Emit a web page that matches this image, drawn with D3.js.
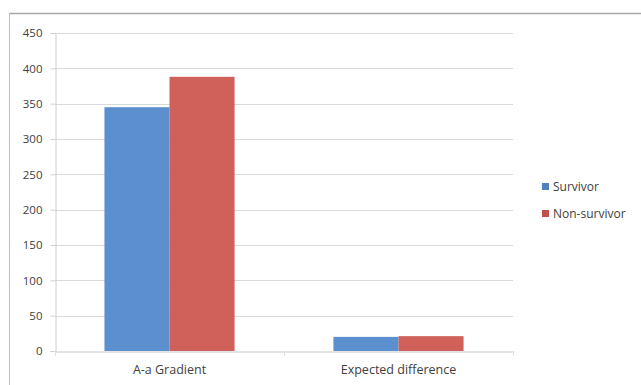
<!DOCTYPE html>
<html>
<head>
<meta charset="utf-8">
<script src="https://cdn.jsdelivr.net/npm/d3@7"></script>
<style>
  html, body { margin: 0; padding: 0; background: #fff; }
  svg { display: block; }
  text { font-family: "Open Sans", "DejaVu Sans", sans-serif; fill: #404040; }
</style>
</head>
<body>
<svg id="chart" width="641" height="385"></svg>
<script>
// Chart data
const categories = ["A-a Gradient", "Expected difference"];
const seriesNames = ["Survivor", "Non-survivor"];
const survivorValues = [345, 20];
const nonSurvivorValues = [388, 21];
const yTicks = [0, 50, 100, 150, 200, 250, 300, 350, 400, 450];

const colors = { "Survivor": "#4f81bd", "Non-survivor": "#c0504d" };
const barColors = { "Survivor": "#5b8fce", "Non-survivor": "#d0605a" };
const fontFamily = "\"Open Sans\", \"DejaVu Sans\", sans-serif";

const svg = d3.select("#chart");

// Outer chart frame (top and left edges)
svg.append("line").attr("x1", 9.5).attr("x2", 641).attr("y1", 13.5).attr("y2", 13.5)
  .attr("stroke", "#a6a6a6").attr("stroke-width", 1.5);
svg.append("line").attr("x1", 9.5).attr("x2", 9.5).attr("y1", 13.5).attr("y2", 385)
  .attr("stroke", "#bfbfbf").attr("stroke-width", 1);

const plot = { left: 55, right: 513, top: 33, bottom: 351 };

const x0 = d3.scaleBand().domain(categories).range([plot.left, plot.right]).paddingInner(0).paddingOuter(0);
const x1 = d3.scaleBand().domain(seriesNames).range([0, x0.bandwidth()]).paddingInner(0).paddingOuter(0.76);
const y = d3.scaleLinear().domain([0, 450]).range([plot.bottom, plot.top]);

// Horizontal gridlines
svg.append("g").selectAll("line").data(yTicks.filter(d => d > 0)).join("line")
  .attr("x1", plot.left).attr("x2", plot.right)
  .attr("y1", d => Math.round(y(d)) + 0.5).attr("y2", d => Math.round(y(d)) + 0.5)
  .attr("stroke", "#d9d9d9").attr("stroke-width", 1);

// Y axis
const yAxis = svg.append("g").attr("transform", `translate(${plot.left + 0.5},0)`)
  .call(d3.axisLeft(y).tickValues(yTicks).tickSize(5).tickPadding(8));
yAxis.select(".domain").attr("stroke", "#d0d0d0");
yAxis.selectAll(".tick line").attr("stroke", "#d0d0d0");
yAxis.selectAll(".tick text").attr("font-size", 11.5).attr("fill", "#404040")
  .attr("font-family", fontFamily);

// Bars
const rows = categories.map((c, i) => ({
  category: c,
  values: [
    { series: "Survivor", value: survivorValues[i] },
    { series: "Non-survivor", value: nonSurvivorValues[i] }
  ]
}));

svg.append("g").selectAll("g").data(rows).join("g")
  .attr("transform", d => `translate(${x0(d.category)},0)`)
  .selectAll("rect").data(d => d.values).join("rect")
  .attr("x", d => x1(d.series))
  .attr("width", x1.bandwidth())
  .attr("y", d => y(d.value))
  .attr("height", d => y(0) - y(d.value))
  .attr("fill", d => barColors[d.series]);

// X axis
const xAxis = svg.append("g").attr("transform", `translate(0,${plot.bottom + 0.5})`)
  .call(d3.axisBottom(x0).tickSize(0).tickPadding(14));
xAxis.select(".domain").attr("stroke", "#c8c8c8");
xAxis.selectAll(".tick text").attr("font-size", 12.5).attr("fill", "#404040")
  .attr("font-family", fontFamily);
// Category separator ticks
svg.append("g").selectAll("line")
  .data([plot.left, plot.left + x0.bandwidth(), plot.right]).join("line")
  .attr("x1", d => d + 0.5).attr("x2", d => d + 0.5)
  .attr("y1", plot.bottom).attr("y2", plot.bottom + 5)
  .attr("stroke", "#e0e0e0");

// Legend
const legend = svg.append("g").attr("transform", "translate(542,0)");
const legendY = [187, 214];
seriesNames.forEach((s, i) => {
  legend.append("rect").attr("x", 0).attr("y", legendY[i] - 4).attr("width", 7).attr("height", 7)
    .attr("fill", colors[s]);
  legend.append("text").attr("x", 11).attr("y", legendY[i]).attr("dy", "0.35em")
    .attr("font-size", 12).attr("fill", "#404040").text(s);
});
</script>
</body>
</html>
